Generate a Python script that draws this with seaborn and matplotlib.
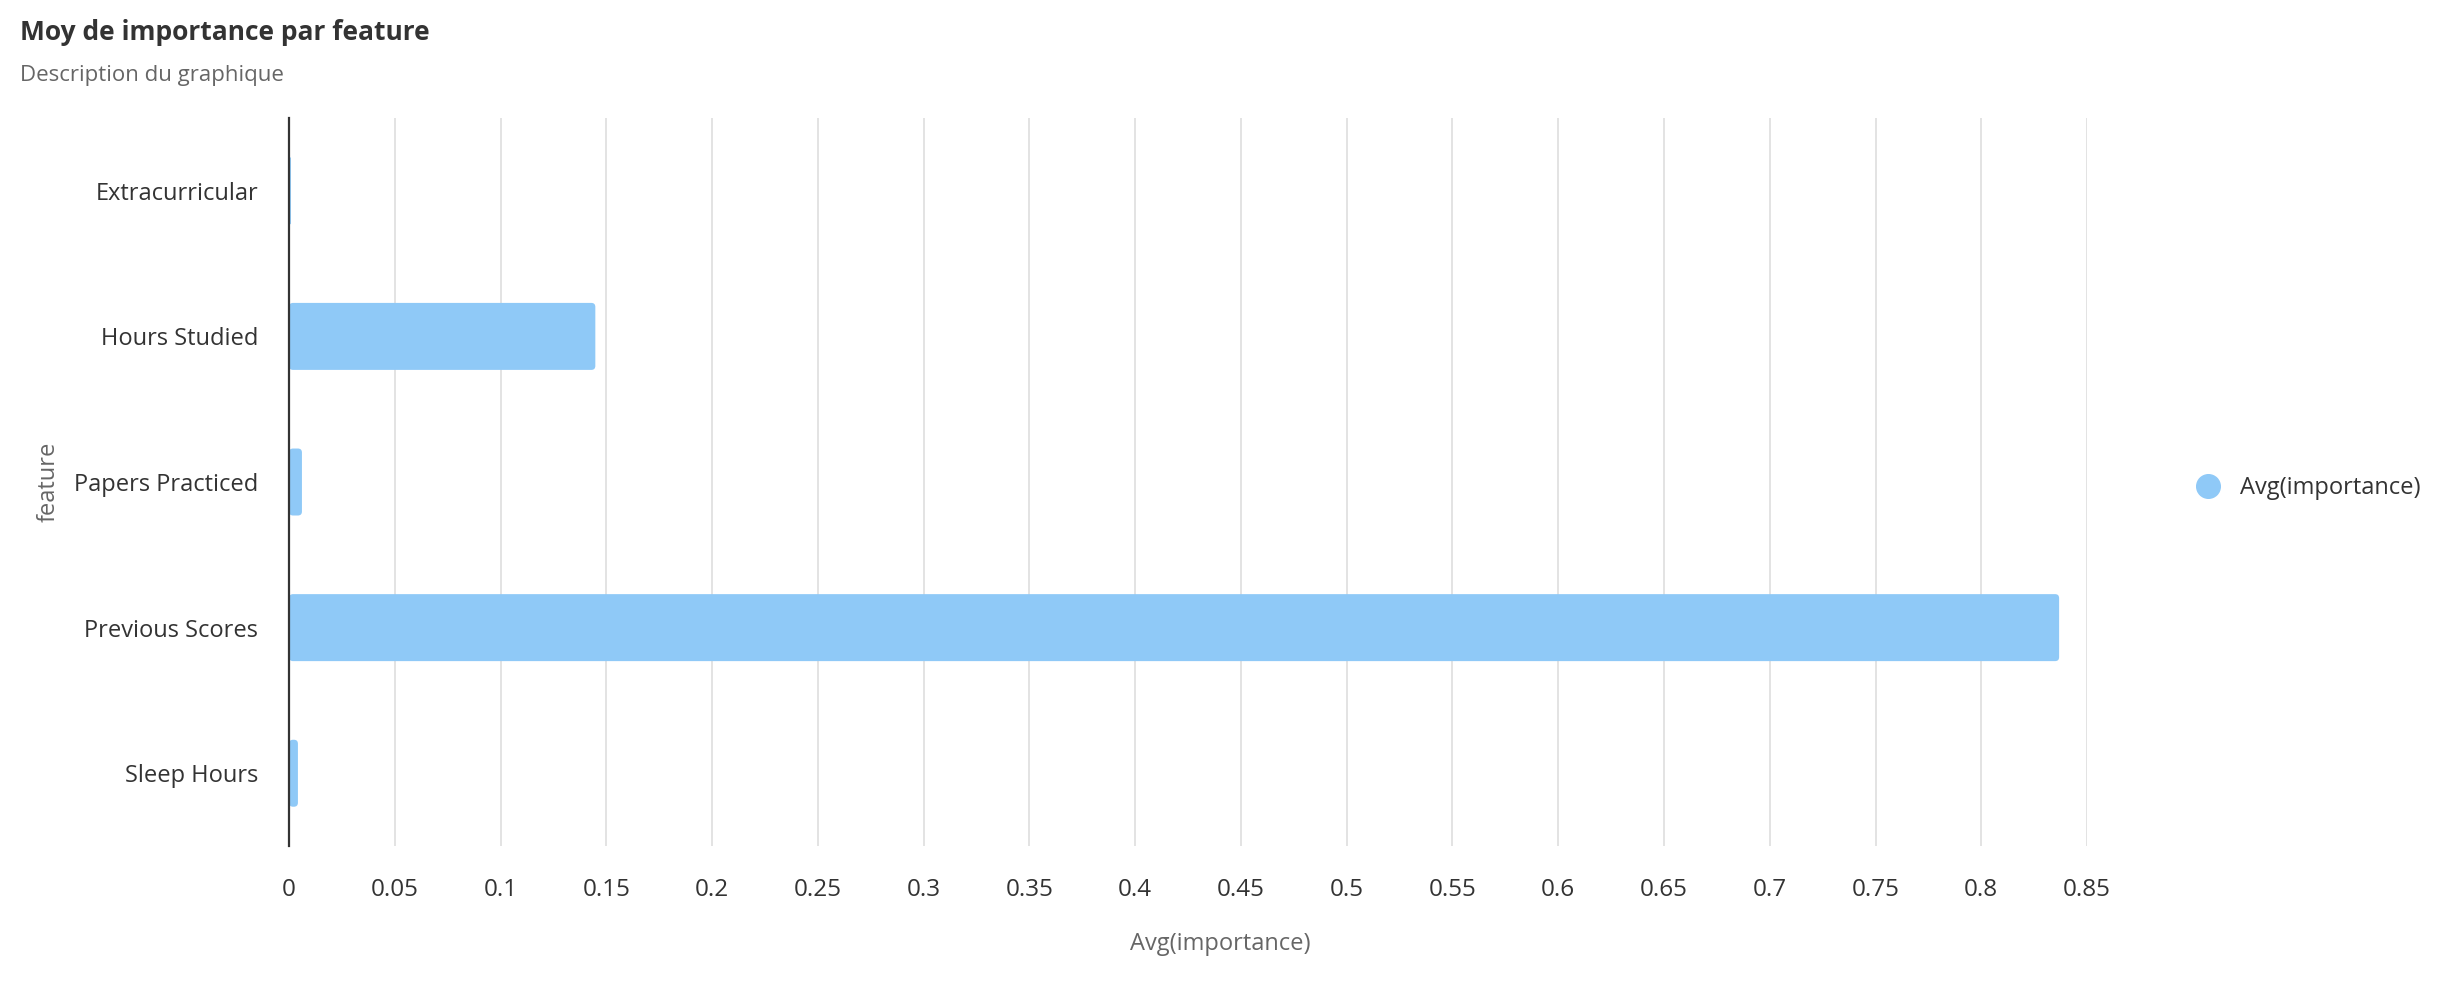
import seaborn as sns
import matplotlib.pyplot as plt
import pandas as pd
from matplotlib.lines import Line2D
from matplotlib.patches import FancyBboxPatch

# Données
features = ["Extracurricular", "Hours Studied", "Papers Practiced", "Previous Scores", "Sleep Hours"]
importance = [0.0009, 0.1448, 0.0061, 0.8368, 0.0042]
x_ticks = [0, 0.05, 0.1, 0.15, 0.2, 0.25, 0.3, 0.35, 0.4, 0.45, 0.5, 0.55, 0.6, 0.65, 0.7, 0.75, 0.8, 0.85]
x_tick_labels = ["0", "0.05", "0.1", "0.15", "0.2", "0.25", "0.3", "0.35", "0.4", "0.45", "0.5",
                 "0.55", "0.6", "0.65", "0.7", "0.75", "0.8", "0.85"]

df = pd.DataFrame({"feature": features, "importance": importance})

sns.set_theme(style="white")
plt.rcParams['font.family'] = ['Open Sans', 'DejaVu Sans']

bar_color = "#8FC9F7"

fig = plt.figure(figsize=(24.62, 9.84), dpi=100)
ax = fig.add_axes([0.1174, 0.1402, 0.8477 - 0.1174, 0.8801 - 0.1402])

sns.barplot(data=df, x="importance", y="feature", color=bar_color, width=0.46,
            saturation=1, ax=ax, zorder=3)

ax.set_xlim(0, 0.85)
ax.set_ylim(4.5, -0.5)

# Coins arrondis (~4 px) sur les barres
px_x = 0.85 / 1798
px_y = 5 / 728
for p in list(ax.patches):
    x0, y0, w, h = p.get_x(), p.get_y(), p.get_width(), p.get_height()
    r = min(4 * px_x, w / 2)
    rb = FancyBboxPatch((x0, y0), w, h, boxstyle=f"round,pad=0,rounding_size={r}",
                        mutation_aspect=px_y / px_x, facecolor=bar_color,
                        edgecolor="none", zorder=3)
    p.remove()
    ax.add_patch(rb)

ax.set_xticks(x_ticks)
ax.set_xticklabels(x_tick_labels)

# Grille verticale
ax.grid(axis="x", color="#e3e3e3", linewidth=1.4, zorder=0)
ax.grid(axis="y", visible=False)
for s in ["top", "right", "bottom"]:
    ax.spines[s].set_visible(False)
ax.spines["left"].set_color("#333333")
ax.spines["left"].set_linewidth(1.6)
ax.spines["left"].set_zorder(4)

ax.tick_params(axis="x", length=0, pad=23, labelsize=17.5, labelcolor="#333333")
ax.tick_params(axis="y", length=0, pad=22, labelsize=17, labelcolor="#333333")

ax.set_xlabel("Avg(importance)", fontsize=17, color="#666666")
ax.xaxis.set_label_coords(0.518, -0.118)
ax.set_ylabel("feature", fontsize=17, color="#666666", labelpad=10)

# Titre et sous-titre
fig.text(20 / 2462, 1 - 33 / 984, "Moy de importance par feature", fontsize=19,
         fontweight="bold", color="#333333", ha="left", va="center")
fig.text(20 / 2462, 1 - 76 / 984, "Description du graphique", fontsize=16,
         color="#666666", ha="left", va="center")

# Légende
handle = Line2D([], [], marker="o", linestyle="none", markersize=17,
                markerfacecolor=bar_color, markeredgecolor=bar_color)
fig.legend([handle], ["Avg(importance)"], loc="center left",
           bbox_to_anchor=(2163 / 2462, 1 - 488 / 984), frameon=False,
           fontsize=17, labelcolor="#333333", handletextpad=0.35)

fig.savefig("out.png", dpi=100)
